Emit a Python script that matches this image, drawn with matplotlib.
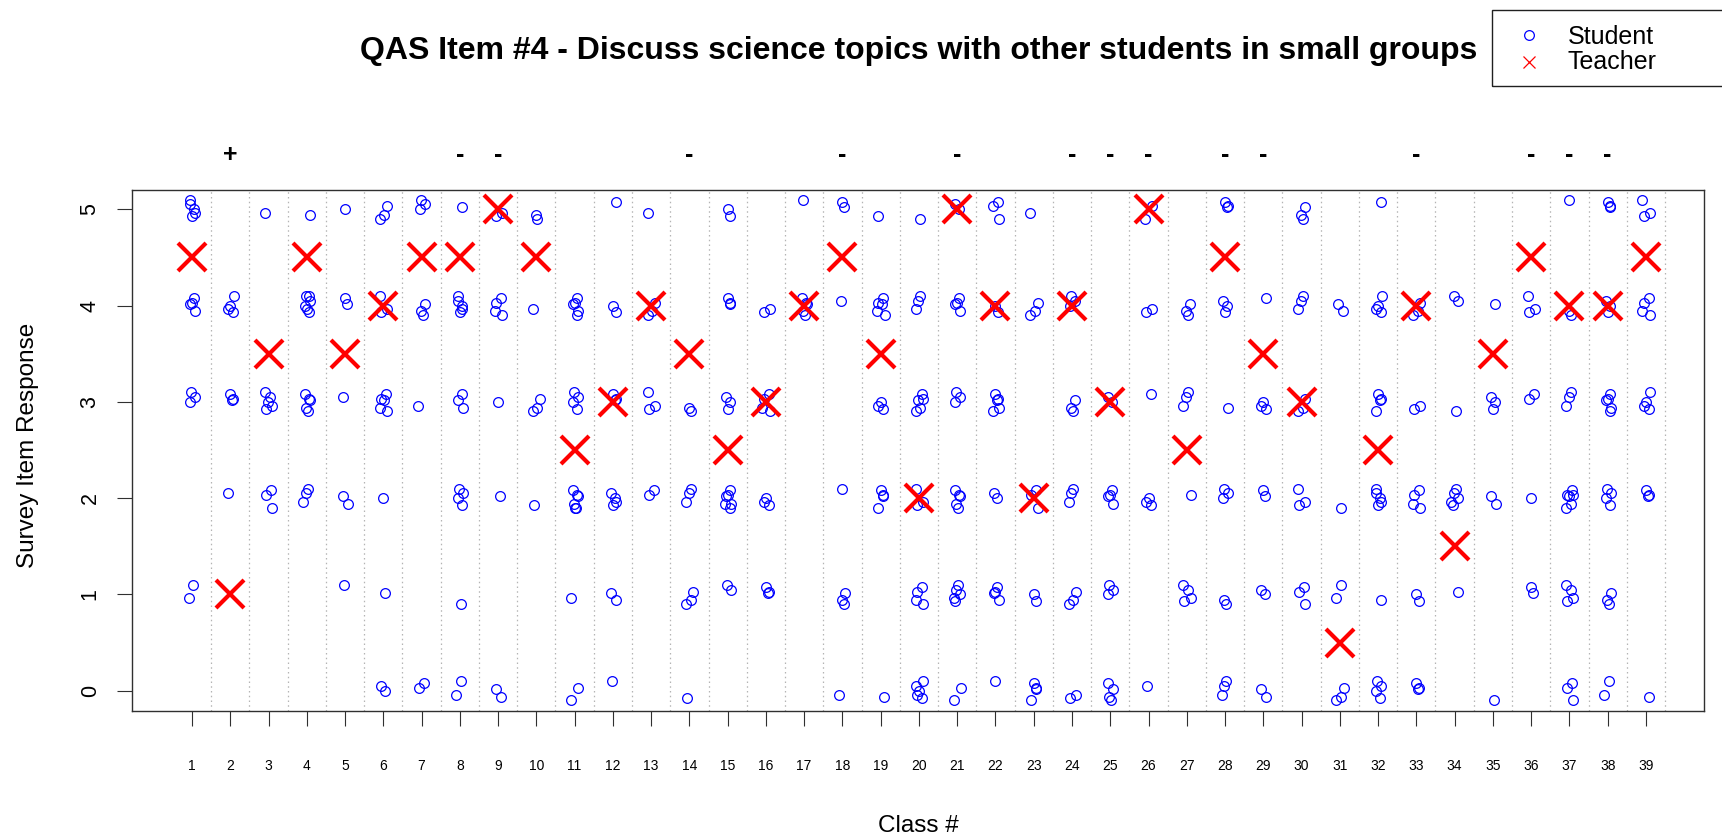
import matplotlib
matplotlib.use("Agg")
import matplotlib.pyplot as plt
from matplotlib.lines import Line2D
from matplotlib.patches import Rectangle
from matplotlib.transforms import blended_transform_factory

plt.rcParams['font.family'] = ['Liberation Sans', 'DejaVu Sans']

# ---- data -----------------------------------------------------------------
classes = list(range(1, 40))

# number of student responses at each level 0..5, one row per class
student_counts = [
    [0, 2, 0, 3, 4, 5],   # 1
    [0, 0, 1, 3, 4, 0],   # 2
    [0, 0, 3, 5, 0, 1],   # 3
    [0, 0, 3, 5, 6, 1],   # 4
    [0, 1, 2, 1, 2, 1],   # 5
    [2, 1, 1, 5, 3, 3],   # 6
    [2, 0, 0, 1, 3, 3],   # 7
    [2, 1, 4, 3, 5, 1],   # 8
    [2, 0, 1, 1, 4, 2],   # 9
    [0, 0, 1, 3, 1, 2],   # 10
    [2, 1, 6, 4, 5, 0],   # 11
    [1, 2, 4, 3, 2, 1],   # 12
    [0, 0, 2, 3, 3, 1],   # 13
    [1, 3, 3, 2, 0, 0],   # 14
    [0, 2, 6, 3, 3, 2],   # 15
    [0, 3, 3, 4, 2, 0],   # 16
    [0, 0, 0, 0, 5, 1],   # 17
    [1, 3, 1, 0, 1, 2],   # 18
    [1, 0, 4, 3, 5, 1],   # 19
    [5, 4, 3, 5, 3, 1],   # 20
    [2, 5, 5, 3, 4, 2],   # 21
    [1, 4, 2, 5, 2, 3],   # 22
    [4, 2, 3, 0, 3, 1],   # 23
    [2, 3, 3, 3, 3, 0],   # 24
    [4, 3, 4, 2, 0, 0],   # 25
    [1, 0, 3, 1, 2, 2],   # 26
    [0, 4, 1, 3, 3, 0],   # 27
    [3, 2, 3, 1, 3, 3],   # 28
    [2, 2, 2, 3, 1, 0],   # 29
    [0, 3, 3, 3, 3, 3],   # 30
    [3, 2, 1, 0, 2, 0],   # 31
    [4, 1, 5, 4, 4, 1],   # 32
    [3, 2, 4, 2, 3, 0],   # 33
    [0, 1, 5, 1, 2, 0],   # 34
    [1, 0, 2, 3, 1, 0],   # 35
    [0, 2, 1, 2, 3, 0],   # 36
    [3, 4, 6, 3, 2, 1],   # 37
    [2, 3, 4, 5, 3, 3],   # 38
    [1, 0, 3, 4, 4, 3],   # 39
]

teacher = [4.5, 1, 3.5, 4.5, 3.5, 4, 4.5, 4.5, 5, 4.5,
           2.5, 3, 4, 3.5, 2.5, 3, 4, 4.5, 3.5, 2,
           5, 4, 2, 4, 3, 5, 2.5, 4.5, 3.5, 3,
           0.5, 2.5, 4, 1.5, 3.5, 4.5, 4, 4, 4.5]

sign_classes = [2, 8, 9, 14, 18, 21, 24, 25, 26, 28, 29, 33, 36, 37, 38]
sign_labels = ['+', '-', '-', '-', '-', '-', '-', '-', '-', '-', '-', '-', '-', '-', '-']

levels = [0, 1, 2, 3, 4, 5]

# ---- figure ----------------------------------------------------------------
W, H = 1722, 840
fig = plt.figure(figsize=(W / 100, H / 100), dpi=100)
ax = fig.add_axes([132.3 / W, 1 - 711 / H, (1703.7 - 132.3) / W, (711 - 190) / H])
ax.set_xlim(-0.56, 40.51)
ax.set_ylim(-0.21, 5.2)

# class separators
for c in classes:
    ax.axvline(c + 0.5, color='#b4b4b4', lw=0.9, ls=(0, (1.2, 2.6)), zorder=1)

# spread of overlapping student answers within a class/level cell
JX = [0.00, 0.07, -0.06, 0.10, -0.09, 0.03, -0.02, 0.08, -0.05, 0.05]
JY = [0.00, 0.08, -0.07, 0.03, -0.04, -0.10, 0.10, -0.06, 0.05, 0.02]

sx, sy = [], []
for c, counts in zip(classes, student_counts):
    for lv, n in zip(levels, counts):
        start = (c * 3 + lv) % len(JX)
        for k in range(n):
            j = (start + k) % len(JX)
            sx.append(c + JX[j])
            sy.append(lv + JY[(start + 2 * k) % len(JY)])

ax.plot(sx, sy, ls='none', marker='o', ms=7, mfc='none', mec='#0000ff',
        mew=0.9, zorder=3)
ax.plot(classes, teacher, ls='none', marker='x', ms=19.5, mec='#ff0000',
        mew=3.0, zorder=4)

# axes styling
for s in ax.spines.values():
    s.set_color('#303030')
    s.set_linewidth(1.0)
ax.set_xticks(classes)
ax.set_xticklabels([str(c) for c in classes], fontsize=10)
ax.set_yticks(levels)
ax.set_yticklabels([str(v) for v in levels], fontsize=15.5, rotation=90, va='center')
ax.tick_params(axis='x', direction='out', length=10.8, width=0.8, color='#303030', pad=24)
ax.tick_params(axis='y', direction='out', length=10.8, width=0.8, color='#303030', pad=12)

# significance markers above each class
trans = blended_transform_factory(ax.transData, ax.transAxes)
for c, s in zip(sign_classes, sign_labels):
    ax.text(c, 1.067, s, transform=trans, ha='center', va='center',
            fontsize=18, fontweight='bold', clip_on=False)

fig.text(919 / W, 1 - 51 / H,
         'QAS Item #4 - Discuss science topics with other students in small groups',
         ha='center', va='center', fontsize=23, fontweight='bold')
fig.text(918 / W, 1 - 826 / H, 'Class #', ha='center', va='center', fontsize=17.5)
fig.text(28 / W, 1 - 445 / H, 'Survey Item Response', ha='center', va='center',
         rotation=90, fontsize=17.5)

# legend box
fig.add_artist(Rectangle((1492 / W, 1 - 86 / H), 260 / W, 76 / H,
                         transform=fig.transFigure, fill=False,
                         edgecolor='#202020', lw=1.0, clip_on=False))
fig.add_artist(Line2D([1529 / W], [1 - 35 / H], transform=fig.transFigure,
                      marker='o', ms=7, mfc='none', mec='#0000ff', mew=0.9, ls='none'))
fig.add_artist(Line2D([1529 / W], [1 - 62 / H], transform=fig.transFigure,
                      marker='x', ms=8.5, mec='#ff0000', mew=0.9, ls='none'))
fig.text(1568 / W, 1 - 37 / H, 'Student', ha='left', va='center', fontsize=18)
fig.text(1568 / W, 1 - 62 / H, 'Teacher', ha='left', va='center', fontsize=18)

fig.savefig('out.png', dpi=100)
